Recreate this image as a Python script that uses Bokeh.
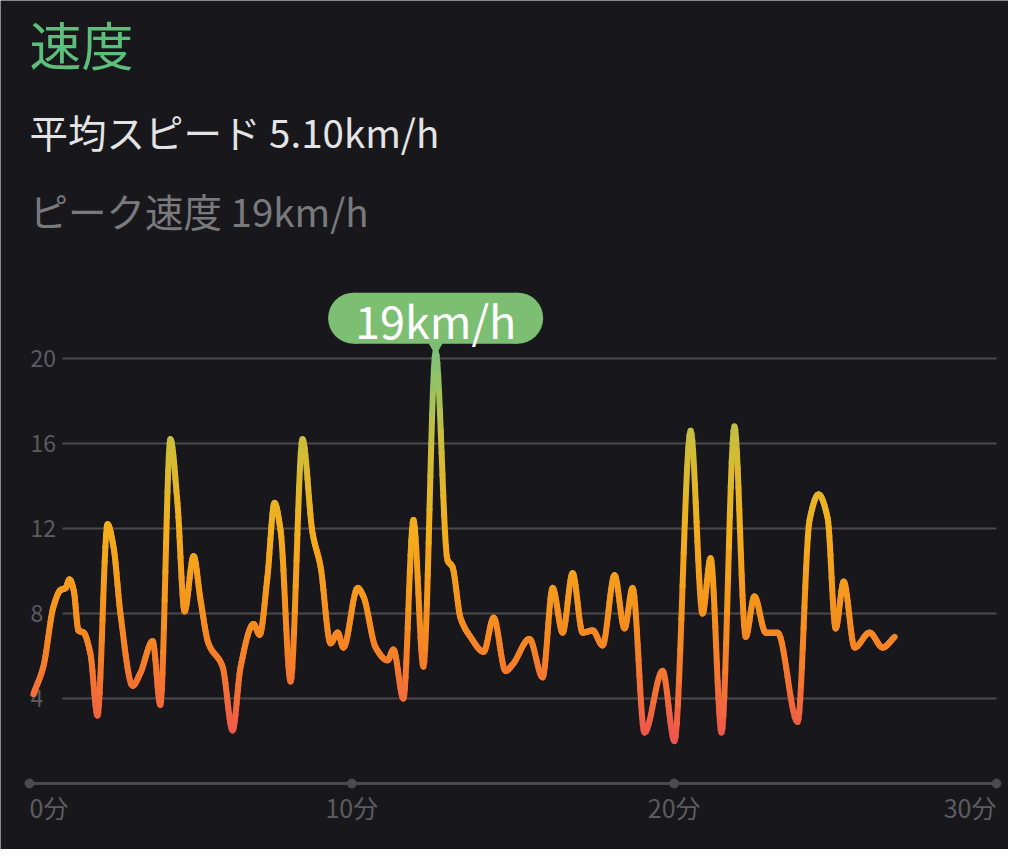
import numpy as np
from bokeh.plotting import figure
from bokeh.models import Label, Range1d
from bokeh.core.properties import value
from bokeh.embed import file_html
from bokeh.resources import INLINE

# ---------------- data ----------------
minutes = [0.12, 0.43, 0.74, 0.96, 1.12, 1.24, 1.37, 1.52, 1.68, 1.89, 2.11, 2.42, 2.61, 2.82,
           3.20, 3.44, 3.82, 4.06, 4.37, 4.59, 4.81, 5.09, 5.31, 5.55, 5.99, 6.30, 6.55, 6.95,
           7.14, 7.38, 7.60, 7.79, 8.10, 8.47, 8.78, 9.03, 9.34, 9.56, 9.74, 10.18, 10.36,
           10.74, 11.11, 11.29, 11.60, 11.91, 12.22, 12.60, 12.97, 13.12, 13.37, 13.68, 14.09,
           14.40, 14.77, 14.99, 15.51, 15.92, 16.23, 16.54, 16.85, 17.16, 17.47, 17.78, 18.15,
           18.46, 18.71, 19.08, 19.64, 20.01, 20.51, 20.88, 21.13, 21.47, 21.87, 22.22, 22.49,
           22.84, 23.21, 23.83, 24.20, 24.48, 24.76, 25.01, 25.26, 25.60, 26.06, 26.47, 26.84]
speed_kmh = [4.2, 5.5, 8.3, 9.1, 9.2, 9.6, 9.1, 7.2, 7.1, 6.1, 3.2, 12.2, 11.1, 8.0,
             4.6, 5.2, 6.7, 3.7, 16.2, 13.2, 8.1, 10.7, 8.6, 6.6, 5.5, 2.5, 5.5, 7.5,
             7.0, 9.7, 13.2, 11.9, 4.8, 16.2, 11.8, 10.2, 6.6, 7.1, 6.4, 9.2, 8.8,
             6.4, 5.8, 6.3, 4.0, 12.4, 5.5, 20.3, 10.5, 10.2, 7.8, 6.9, 6.2,
             7.8, 5.3, 5.6, 6.8, 5.0, 9.2, 7.1, 9.9, 7.1, 7.2, 6.5, 9.8,
             7.3, 9.2, 2.4, 5.3, 2.0, 16.6, 8.0, 10.6, 2.4, 16.8, 6.9, 8.8,
             7.1, 7.1, 2.9, 12.4, 13.6, 12.5, 7.3, 9.5, 6.4, 7.1, 6.4, 6.9]
y_ticks = [4, 8, 12, 16, 20]
x_ticks = [0, 10, 20, 30]
x_tick_labels = ["0分", "10分", "20分", "30分"]
title_text = "速度"
avg_text = "平均スピード 5.10km/h"
peak_text = "ピーク速度 19km/h"
peak_label = "19km/h"

# ---------------- style ----------------
BG = "#18181c"
FONT = "Noto Sans CJK JP"
GRID = "#4a4a4e"
AXIS = "#4a4a4f"
TICKTXT = "#5c5c60"
GREEN = "#7cbf73"
stop_vals = [2, 4, 6, 8, 12, 16, 20]
stop_rgb = [(239, 83, 80), (243, 108, 58), (245, 128, 40), (246, 146, 30),
            (244, 175, 28), (205, 190, 58), (128, 195, 120)]

PX_X = 32.23   # pixels per minute
PX_Y = 21.25   # pixels per km/h

W, H = 1008, 849
p = figure(width=W, height=H, output_backend="svg", toolbar_location=None,
           x_range=Range1d(-29 / PX_X, 30 + 12 / PX_X),
           y_range=Range1d(-66 / PX_Y, 783 / PX_Y),
           min_border_left=0, min_border_right=0, min_border_top=0, min_border_bottom=0,
           x_axis_location=None, y_axis_location=None,
           background_fill_color=BG, border_fill_color=BG, outline_line_color=None)
p.xgrid.visible = False
p.ygrid.visible = False

# grid lines
p.segment(x0=[1.02] * len(y_ticks), y0=y_ticks, x1=[x_ticks[-1]] * len(y_ticks), y1=y_ticks,
          line_color=GRID, line_width=2)
p.text(x=[0] * len(y_ticks), y=y_ticks, text=[str(t) for t in y_ticks],
       text_align="left", text_baseline="middle", x_offset=1,
       text_font=value(FONT), text_font_size="23px", text_color=TICKTXT)

# x axis
p.line(x=[x_ticks[0], x_ticks[-1]], y=[0, 0], line_color=AXIS, line_width=3)
p.scatter(x=x_ticks, y=[0] * len(x_ticks), size=9, color=AXIS)
aligns = ["left"] + ["center"] * (len(x_ticks) - 2) + ["right"]
for xv, lab, al in zip(x_ticks, x_tick_labels, aligns):
    p.text(x=[xv], y=[0], text=[lab], text_align=al, text_baseline="top", y_offset=5,
           text_font=value(FONT), text_font_size="25px", text_color=TICKTXT)

# smooth (monotone cubic) rendering of the line through the read values
x = np.array(minutes, float)
y = np.array(speed_kmh, float)
h = np.diff(x)
d = np.diff(y) / h
m = np.zeros_like(y)
m[0], m[-1] = d[0], d[-1]
for k in range(1, len(y) - 1):
    if d[k - 1] * d[k] > 0:
        w1 = 2 * h[k] + h[k - 1]
        w2 = h[k] + 2 * h[k - 1]
        m[k] = (w1 + w2) / (w1 / d[k - 1] + w2 / d[k])
xs, ys = [], []
for i in range(len(x) - 1):
    t = np.linspace(0, 1, 14, endpoint=(i == len(x) - 2))
    h00 = 2 * t**3 - 3 * t**2 + 1
    h10 = t**3 - 2 * t**2 + t
    h01 = -2 * t**3 + 3 * t**2
    h11 = t**3 - t**2
    xs.extend(x[i] + t * h[i])
    ys.extend(h00 * y[i] + h10 * h[i] * m[i] + h01 * y[i + 1] + h11 * h[i] * m[i + 1])
xs = np.array(xs)
ys = np.array(ys)


def grad_color(v):
    r = np.interp(v, stop_vals, [c[0] for c in stop_rgb])
    g = np.interp(v, stop_vals, [c[1] for c in stop_rgb])
    b = np.interp(v, stop_vals, [c[2] for c in stop_rgb])
    return "#%02x%02x%02x" % (int(r), int(g), int(b))


mid = (ys[:-1] + ys[1:]) / 2
cols = [grad_color(v) for v in mid]
p.segment(x0=xs[:-1], y0=ys[:-1], x1=xs[1:], y1=ys[1:], line_color=cols,
          line_width=6, line_cap="round")

# peak tooltip (pill box + pointer + text)
ip = int(np.argmax(y))
px, py = x[ip], y[ip]
BOX_W, BOX_H, LIFT = 215, 51, 34
by = py + LIFT / PX_Y
half = (BOX_W - BOX_H) / 2 / PX_X
p.rect(x=[px], y=[by], width=BOX_W - BOX_H, height=BOX_H, width_units="screen",
       height_units="screen", fill_color=GREEN, line_color=None)
p.scatter(x=[px - half, px + half], y=[by, by], size=BOX_H, marker="circle",
          fill_color=GREEN, line_color=None)
p.scatter(x=[px], y=[py + 5 / PX_Y], marker="inverted_triangle", size=13,
          color=GREEN, line_color=GREEN)
p.text(x=[px], y=[by], text=[peak_label], text_align="center", text_baseline="middle",
       y_offset=1, text_color="white", text_font=value(FONT), text_font_size="45px")

# header texts (screen units, from bottom-left of the frame)
p.add_layout(Label(x=29, y=806, x_units="screen", y_units="screen", text=title_text,
                   text_align="left", text_baseline="alphabetic", text_font=FONT,
                   text_font_size="52px", text_color="#5cbf7b"))
p.add_layout(Label(x=29, y=719, x_units="screen", y_units="screen", text=avg_text,
                   text_align="left", text_baseline="middle", text_font=FONT,
                   text_font_size="38.5px", text_color="#e4e4e4"))
p.add_layout(Label(x=29, y=640, x_units="screen", y_units="screen", text=peak_text,
                   text_align="left", text_baseline="middle", text_font=FONT,
                   text_font_size="38.5px", text_color="#7a7a7c"))

open("out.html", "w").write(file_html(p, INLINE))
